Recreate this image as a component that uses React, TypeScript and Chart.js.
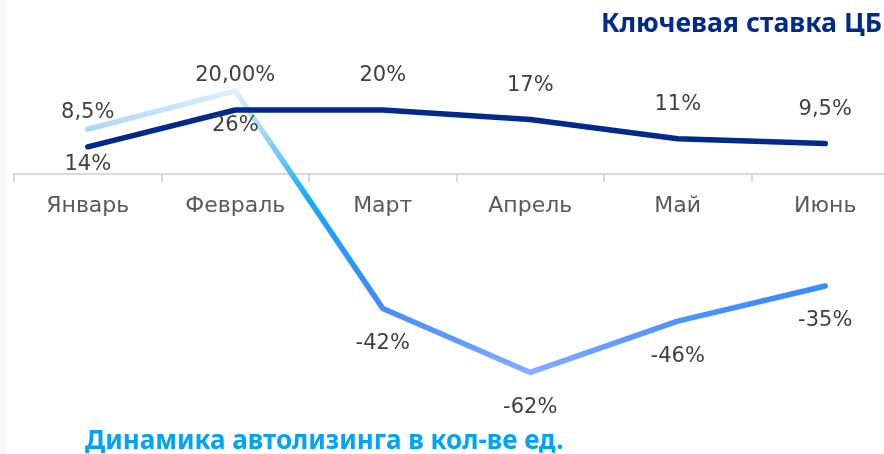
import React, { useEffect, useRef } from "react";
import { Chart, registerables } from "chart.js";

Chart.register(...registerables);

const categories = ["Январь", "Февраль", "Март", "Апрель", "Май", "Июнь"];
const keyRate = [8.5, 20, 20, 17, 11, 9.5];
const keyRateLabels = ["8,5%", "20,00%", "20%", "17%", "11%", "9,5%"];
const leasing = [14, 26, -42, -62, -46, -35];
const leasingLabels = ["14%", "26%", "-42%", "-62%", "-46%", "-35%"];
const rateTitle = "Ключевая ставка ЦБ";
const leasingTitle = "Динамика автолизинга в кол-ве ед.";

const LABEL_FONT = '"DejaVu Sans", sans-serif';

const pointLabels = {
  id: "pointLabels",
  afterDatasetsDraw(chart: any) {
    const ctx = chart.ctx;
    const sets = [
      { labels: keyRateLabels, dy: -34 },
      { labels: leasingLabels, dy: 35 },
    ];
    ctx.save();
    ctx.font = `21px ${LABEL_FONT}`;
    ctx.fillStyle = "#404040";
    ctx.textAlign = "center";
    ctx.textBaseline = "middle";
    sets.forEach((s, i) => {
      const meta = chart.getDatasetMeta(i);
      meta.data.forEach((pt: any, j: number) => {
        ctx.fillText(s.labels[j], pt.x, pt.y + s.dy);
      });
    });
    ctx.restore();
  },
};

export default function App() {
  const ref = useRef<HTMLCanvasElement>(null);
  useEffect(() => {
    if (!ref.current) return;
    const gradientFor = (context: any) => {
      const chart = context.chart;
      const { ctx, chartArea, scales } = chart;
      if (!chartArea || !scales.y) return "#3a8cff";
      const y = scales.y;
      const top = y.getPixelForValue(28);
      const bottom = y.getPixelForValue(-64);
      const g = ctx.createLinearGradient(0, top, 0, bottom);
      const stop = (v: number) => (y.getPixelForValue(v) - top) / (bottom - top);
      g.addColorStop(0, "#e6f2fd");
      g.addColorStop(stop(14), "#a9d8f9");
      g.addColorStop(stop(-8), "#12a9ff");
      g.addColorStop(stop(-38), "#3b8bff");
      g.addColorStop(stop(-50), "#5a97ff");
      g.addColorStop(1, "#8db0ff");
      return g;
    };
    const chart = new Chart(ref.current, {
      type: "line",
      data: {
        labels: categories,
        datasets: [
          {
            label: rateTitle,
            data: keyRate,
            borderColor: "#002b8a",
            borderWidth: 5.5,
            borderCapStyle: "round",
            borderJoinStyle: "round",
            pointRadius: 0,
            tension: 0,
          },
          {
            label: leasingTitle,
            data: leasing,
            borderColor: gradientFor,
            borderWidth: 5.5,
            borderCapStyle: "round",
            borderJoinStyle: "round",
            pointRadius: 0,
            tension: 0,
          },
        ],
      },
      options: {
        responsive: false,
        animation: false,
        devicePixelRatio: 1,
        layout: { padding: { left: 14, right: 21, top: 14, bottom: 24 } },
        plugins: {
          legend: { display: false },
          tooltip: { enabled: false },
          title: { display: false },
        },
        scales: {
          y: {
            display: false,
            min: -80,
            max: 50,
          },
          x: {
            type: "category",
            position: { y: 0 } as any,
            offset: true,
            grid: {
              offset: true,
              drawOnChartArea: false,
              drawTicks: true,
              tickLength: 7,
              color: "#d9d9d9",
              lineWidth: 2,
            },
            border: { display: true, color: "#d9d9d9", width: 2 },
            ticks: {
              color: "#595959",
              font: { family: LABEL_FONT, size: 22 },
              padding: 12,
              maxRotation: 0,
            },
            afterFit: (s: any) => {
              s.height = 0;
            },
          },
        },
      },
      plugins: [pointLabels],
    } as any);
    return () => chart.destroy();
  }, []);

  return (
    <div
      style={{
        position: "absolute",
        left: 0,
        top: 0,
        width: 884,
        height: 454,
        overflow: "hidden",
        background: "#ffffff",
      }}
    >
      <div
        style={{
          position: "absolute",
          left: 0,
          top: 0,
          width: 6,
          height: 454,
          background: "#f7f7f7",
        }}
      />
      <canvas
        ref={ref}
        width={920}
        height={454}
        style={{ position: "absolute", left: 0, top: 0, width: 920, height: 454 }}
      />
      <div
        style={{
          position: "absolute",
          right: 2,
          top: 5,
          fontFamily: '"Noto Sans", sans-serif',
          fontWeight: 700,
          fontSize: 26.7,
          lineHeight: "34px",
          color: "#002b8a",
          whiteSpace: "nowrap",
        }}
      >
        {rateTitle}
      </div>
      <div
        style={{
          position: "absolute",
          left: 85,
          top: 422,
          fontFamily: '"Noto Sans", sans-serif',
          fontWeight: 700,
          fontSize: 26,
          lineHeight: "34px",
          color: "#00a3f5",
          whiteSpace: "nowrap",
        }}
      >
        {leasingTitle}
      </div>
    </div>
  );
}
